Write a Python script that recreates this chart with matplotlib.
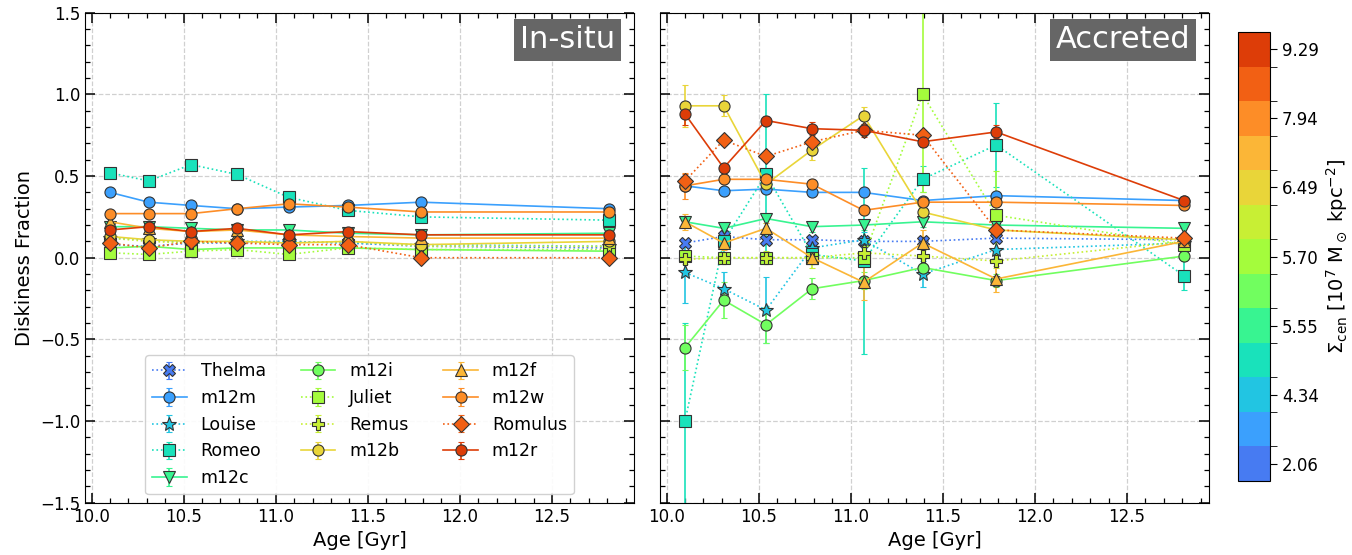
import matplotlib
matplotlib.use('Agg')
import matplotlib.pyplot as plt
import numpy as np
from matplotlib.colors import BoundaryNorm, ListedColormap
from matplotlib.cm import ScalarMappable
from matplotlib.ticker import MultipleLocator

# edades de los snapshots [Gyr]
ages = [10.10, 10.31, 10.54, 10.79, 11.07, 11.39, 11.79, 12.81]

# galaxias ordenadas por densidad superficial central
galaxies = ['Thelma', 'm12m', 'Louise', 'Romeo', 'm12c', 'm12i', 'Juliet',
            'Remus', 'm12b', 'm12f', 'm12w', 'Romulus', 'm12r']
sigma_labels = ['2.06', '', '4.34', '', '5.55', '', '5.70', '', '6.49', '', '7.94', '', '9.29']

# fraccion de disco, estrellas in-situ (una fila por galaxia)
insitu = [
    [0.08, 0.07, 0.09, 0.09, 0.10, 0.09, 0.07, 0.06],   # Thelma
    [0.40, 0.34, 0.32, 0.30, 0.31, 0.32, 0.34, 0.30],   # m12m
    [0.12, 0.11, 0.09, 0.10, 0.10, 0.09, 0.08, 0.07],   # Louise
    [0.52, 0.47, 0.57, 0.51, 0.37, 0.29, 0.25, 0.23],   # Romeo
    [0.19, 0.19, 0.18, 0.17, 0.17, 0.15, 0.14, 0.15],   # m12c
    [0.06, 0.07, 0.05, 0.06, 0.06, 0.06, 0.05, 0.04],   # m12i
    [0.03, 0.02, 0.04, 0.05, 0.02, 0.06, 0.05, 0.05],   # Juliet
    [0.12, 0.10, 0.09, 0.10, 0.09, 0.10, 0.07, 0.07],   # Remus
    [0.13, 0.11, 0.10, 0.10, 0.09, 0.10, 0.08, 0.10],   # m12b
    [0.22, 0.18, 0.16, 0.17, 0.14, 0.13, 0.12, 0.12],   # m12f
    [0.27, 0.27, 0.27, 0.30, 0.33, 0.31, 0.28, 0.28],   # m12w
    [0.09, 0.06, 0.10, 0.09, 0.08, 0.08, 0.00, 0.00],   # Romulus
    [0.17, 0.19, 0.16, 0.18, 0.14, 0.16, 0.14, 0.14],   # m12r
]
insitu_err = [0.02, 0.02, 0.02, 0.02, 0.02, 0.02, 0.02, 0.02, 0.02, 0.02, 0.02, 0.02, 0.02]

# fraccion de disco, estrellas acretadas
accreted = [
    [0.09, 0.13, 0.11, 0.11, 0.10, 0.10, 0.12, 0.11],    # Thelma
    [0.44, 0.41, 0.42, 0.40, 0.40, 0.35, 0.38, 0.35],    # m12m
    [-0.09, -0.19, -0.32, 0.06, 0.11, -0.10, 0.05, 0.09],  # Louise
    [-1.00, 0.10, 0.51, 0.02, -0.02, 0.48, 0.69, -0.11],  # Romeo
    [0.22, 0.18, 0.24, 0.19, 0.20, 0.22, 0.20, 0.18],    # m12c
    [-0.55, -0.26, -0.41, -0.19, -0.14, -0.06, -0.14, 0.01],  # m12i
    [0.01, 0.00, 0.00, 0.00, 0.00, 1.00, 0.26, 0.08],    # Juliet
    [-0.01, 0.00, 0.00, 0.00, 0.03, 0.01, -0.02, 0.10],  # Remus
    [0.93, 0.93, 0.45, 0.66, 0.87, 0.28, 0.17, 0.11],    # m12b
    [0.22, 0.09, 0.18, 0.00, -0.15, 0.09, -0.13, 0.10],  # m12f
    [0.44, 0.48, 0.48, 0.45, 0.29, 0.34, 0.34, 0.32],    # m12w
    [0.47, 0.72, 0.62, 0.71, 0.78, 0.75, 0.17, 0.12],    # Romulus
    [0.88, 0.55, 0.84, 0.79, 0.78, 0.71, 0.77, 0.35],    # m12r
]
accreted_err = [
    [0.02, 0.02, 0.02, 0.02, 0.02, 0.02, 0.02, 0.02],
    [0.02, 0.02, 0.02, 0.02, 0.02, 0.02, 0.02, 0.02],
    [0.19, 0.10, 0.20, 0.05, 0.05, 0.08, 0.05, 0.03],
    [0.60, 0.10, 0.49, 0.05, 0.57, 0.08, 0.26, 0.09],
    [0.03, 0.03, 0.03, 0.03, 0.03, 0.03, 0.03, 0.03],
    [0.135, 0.11, 0.11, 0.065, 0.05, 0.05, 0.04, 0.03],
    [0.03, 0.03, 0.03, 0.03, 0.03, 0.60, 0.27, 0.03],
    [0.03, 0.03, 0.04, 0.06, 0.04, 0.04, 0.04, 0.03],
    [0.13, 0.065, 0.05, 0.06, 0.05, 0.05, 0.04, 0.03],
    [0.05, 0.04, 0.03, 0.03, 0.11, 0.08, 0.08, 0.03],
    [0.08, 0.03, 0.03, 0.03, 0.03, 0.03, 0.03, 0.03],
    [0.04, 0.03, 0.03, 0.03, 0.03, 0.03, 0.03, 0.03],
    [0.07, 0.03, 0.03, 0.04, 0.04, 0.03, 0.04, 0.02],
]

# estilos
markers = ['X', 'o', '*', 's', 'v', 'o', 's', 'P', 'o', '^', 'o', 'D', 'o']
msizes = [9, 8, 10, 8, 9, 8, 8, 9, 8, 9, 8, 8, 8]
paired = ['Thelma', 'Louise', 'Romeo', 'Juliet', 'Remus', 'Romulus']
colors = plt.cm.turbo(np.linspace(0.15, 0.85, len(galaxies)))


def draw_panel(ax, values, errors, label):
    for i, name in enumerate(galaxies):
        err = errors[i]
        ls = ':' if name in paired else '-'
        ax.errorbar(ages, values[i], yerr=err, color=colors[i], ls=ls, lw=1.2,
                    marker=markers[i], ms=msizes[i], mec='#333333', mew=0.8,
                    capsize=2.5, elinewidth=1.2, label=name)
    ax.set_ylim(-1.5, 1.5)
    ax.xaxis.set_major_locator(MultipleLocator(0.5))
    ax.xaxis.set_minor_locator(MultipleLocator(0.1))
    ax.yaxis.set_major_locator(MultipleLocator(0.5))
    ax.yaxis.set_minor_locator(MultipleLocator(0.1))
    ax.tick_params(which='both', direction='in', top=True, right=True, labelsize=12)
    ax.tick_params(which='major', length=7, width=1.1)
    ax.tick_params(which='minor', length=3.5, width=0.9)
    ax.grid(True, which='major', ls='--', color='#d0d0d0', lw=0.9)
    ax.set_axisbelow(True)
    ax.set_xlabel('Age [Gyr]', fontsize=14)
    ax.text(0.966, 0.974, label, transform=ax.transAxes, ha='right', va='top',
            fontsize=22, color='white',
            bbox=dict(facecolor='#666666', edgecolor='none', pad=4.5))


fig = plt.figure(figsize=(13.52, 5.55), dpi=100)
ax1 = fig.add_axes([0.0629, 0.0942, 0.406, 0.8829])
ax2 = fig.add_axes([0.4882, 0.0942, 0.406, 0.8829])

draw_panel(ax1, insitu, insitu_err, 'In-situ')
draw_panel(ax2, accreted, accreted_err, 'Accreted')
ax1.set_ylabel('Diskiness Fraction', fontsize=14)
ax2.tick_params(labelleft=False)

ax1.legend(loc='lower center', ncol=3, fontsize=12.5, framealpha=0.9)

# barra de colores discreta
cax = fig.add_axes([0.9157, 0.1333, 0.0237, 0.809])
nbins = len(galaxies)
cmap = ListedColormap(colors)
norm = BoundaryNorm(np.arange(nbins + 1), nbins)
sm = ScalarMappable(norm=norm, cmap=cmap)
cb = fig.colorbar(sm, cax=cax)
centers = np.arange(nbins) + 0.5
cb.set_ticks(centers[::2])
cb.set_ticklabels(sigma_labels[::2])
cax.set_yticks(np.arange(1, nbins), minor=True)
cax.tick_params(which='both', labelsize=12)
cax.tick_params(which='major', length=5)
cax.tick_params(which='minor', length=5)
cb.set_label(r'$\Sigma_{\rm cen}$ [$10^7$ M$_\odot$ kpc$^{-2}$]', fontsize=14)

fig.savefig('out.png', dpi=100)
